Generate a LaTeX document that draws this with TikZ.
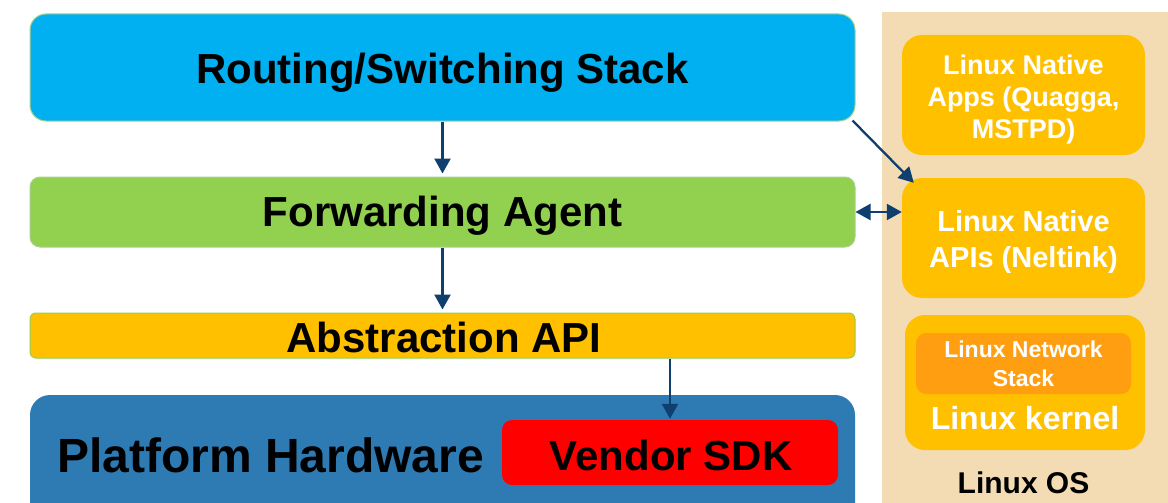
\documentclass[tikz,border=0pt]{standalone}
\usepackage{fontspec}
\setmainfont{Liberation Sans}
\usetikzlibrary{arrows.meta}
\definecolor{cblue}{HTML}{00B0F0}
\definecolor{cgreen}{HTML}{92D050}
\definecolor{cgborder}{HTML}{A9D18E}
\definecolor{cyellow}{HTML}{FFC000}
\definecolor{cplat}{HTML}{2E7BB4}
\definecolor{cred}{HTML}{FF0000}
\definecolor{ctan}{HTML}{F3DCB3}
\definecolor{corange}{HTML}{FF9E10}
\definecolor{carrow}{HTML}{0E3F6E}
\tikzset{
  layer/.style={draw=cgborder, line width=1pt, rounded corners=#1, inner sep=0pt},
  sidebox/.style={fill=cyellow, rounded corners=20pt, inner sep=0pt, text=white, align=center, font=\bfseries\fontsize{27}{32}\selectfont},
  bigtext/.style={font=\bfseries\fontsize{42}{48}\selectfont, inner sep=0pt},
  arr/.style={draw=carrow, line width=2.3pt, -{Triangle[length=15pt,width=16pt]}},
  darr/.style={draw=carrow, line width=2.3pt, {Triangle[length=15pt,width=16pt]}-{Triangle[length=15pt,width=16pt]}},
}
\begin{document}
\begin{tikzpicture}[x=1pt,y=-1pt]
\clip (0,0) rectangle (1168,503);
\fill[white] (0,0) rectangle (1168,503);
% Left stack
\node[layer=16pt, fill=cblue, minimum width=825pt, minimum height=107pt] (rss) at (442.5,67.5) {};
\node[bigtext] (rsst) at ([yshift=-5pt]rss.center) {Routing/Switching Stack};
\node[layer=10pt, fill=cgreen, minimum width=825pt, minimum height=70pt] (fwd) at (442.5,212) {};
\node[bigtext] (fwdt) at ([yshift=-4pt]fwd.center) {Forwarding Agent};
\node[layer=6pt, draw=cgreen, fill=cyellow, minimum width=825pt, minimum height=45pt] (api) at (442.5,335.5) {};
\node[bigtext] (apit) at (444,337) {Abstraction API};
\node[fill=cplat, rounded corners=20pt, minimum width=825pt, minimum height=140pt, inner sep=0pt] (plat) at (442.5,465) {};
\node[font=\bfseries\fontsize{48}{55}\selectfont, anchor=west, inner sep=0pt] (platt) at (57,455) {Platform Hardware};
\node[fill=cred, rounded corners=10pt, minimum width=336pt, minimum height=65pt, inner sep=0pt] (sdk) at (670,452.5) {};
\node[bigtext] (sdkt) at (671,455) {Vendor SDK};
% Linux OS panel
\node[fill=ctan, minimum width=300pt, minimum height=500pt, inner sep=0pt, anchor=north west] (os) at (882,12) {};
\node[sidebox, minimum width=243pt, minimum height=120pt] (apps) at (1023.5,95) {};
\node[sidebox] (appst) at (1023.5,100) {Linux Native\\Apps (Quagga,\\MSTPD)};
\node[sidebox, minimum width=243pt, minimum height=120pt] (apis) at (1023.5,238) {};
\node[sidebox, font=\bfseries\fontsize{29}{36}\selectfont] (apist) at (1023.5,242) {Linux Native\\APIs (Neltink)};
\node[sidebox, minimum width=240pt, minimum height=135pt] (kern) at (1025,382.5) {};
\node[fill=corange, rounded corners=10pt, minimum width=215pt, minimum height=61pt, inner sep=0pt, text=white, align=center, font=\bfseries\fontsize{23}{29}\selectfont] (net) at (1023.5,363.5) {Linux Network\\Stack};
\node[text=white, font=\bfseries\fontsize{32}{38}\selectfont, inner sep=0pt] (kernt) at (1025,418) {Linux kernel};
\node[font=\bfseries\fontsize{30}{36}\selectfont, inner sep=0pt] (ost) at (1023.5,483) {Linux OS};
% Arrows
\draw[arr] (rss.south) -- ([yshift=3pt]fwd.north);
\draw[arr] (fwd.south) -- ([yshift=3pt]api.north);
\draw[arr] (api.south -| sdk.north) -- ([yshift=1pt]sdk.north);
\draw[arr] ([xshift=-3pt,yshift=1pt]rss.south east) -- ([xshift=12pt,yshift=-5pt]apis.north west);
\draw[darr] (fwd.east) -- (fwd.east -| apis.west);
\end{tikzpicture}
\end{document}
